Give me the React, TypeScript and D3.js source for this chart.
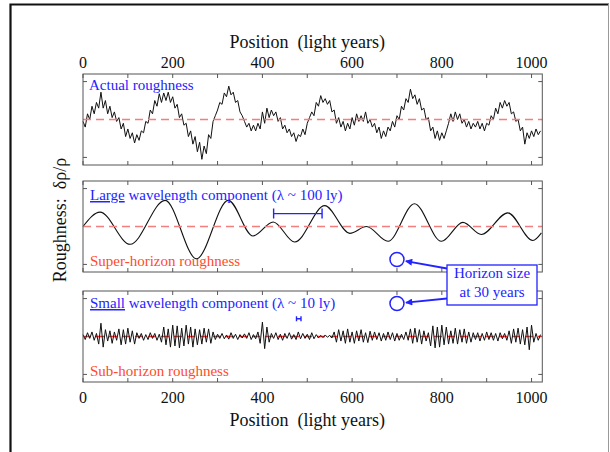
import React, { useRef, useEffect } from "react";
import * as d3 from "d3";

// position axis (light years)
const positionTicks = [0, 100, 200, 300, 400, 500, 600, 700, 800, 900, 1000];
const positionLabels = [0, 200, 400, 600, 800, 1000];
const roughnessTicks = [-1, 1];
const sampleStep = 5; // ly between samples of the noisy series

// top panel: actual roughness, one value every 5 ly from 0
const actualRoughness = [
  -0.05, -0.2, 0.15, 0.0, 0.35, 0.15, 0.45, 0.3, 0.72, 0.3,
  0.5, 0.15, 0.35, 0.05, 0.2, -0.05, 0.05, -0.25, -0.1, -0.45,
  -0.25, -0.5, -0.35, -0.62, -0.4, -0.55, -0.3, -0.35, -0.05, -0.1,
  0.25, 0.15, 0.5, 0.35, 0.68, 0.45, 0.7, 0.5, 0.72, 0.45,
  0.6, 0.3, 0.4, 0.05, 0.15, -0.15, -0.1, -0.45, -0.3, -0.65,
  -0.45, -0.85, -0.6, -1.05, -0.7, -0.9, -0.4, -0.5, -0.05, 0.1,
  0.25, 0.45, 0.4, 0.7, 0.6, 0.88, 0.65, 0.72, 0.45, 0.5,
  0.2, 0.1, -0.05, -0.2, -0.1, -0.3, -0.15, -0.3, -0.1, -0.25,
  0.2, -0.1, 0.3, 0.05, 0.25, 0.1, 0.2, -0.05, 0.05, -0.25,
  -0.15, -0.35, -0.25, -0.45, -0.35, -0.58, -0.4, -0.45, -0.25, -0.4,
  -0.1, 0.05, 0.2, 0.1, 0.45, 0.35, 0.63, 0.45, 0.55, 0.4,
  0.5, 0.2, 0.25, -0.1, 0.05, -0.2, -0.05, -0.3, -0.1, -0.25,
  0.05, -0.15, 0.15, -0.05, 0.1, -0.05, 0.2, -0.1, 0.0, -0.2,
  -0.1, -0.35, -0.2, -0.5, -0.3, -0.45, -0.2, -0.3, -0.05, -0.2,
  0.1, 0.0, 0.35, 0.25, 0.55, 0.45, 0.8, 0.55, 0.65, 0.4,
  0.55, 0.25, 0.3, 0.0, 0.05, -0.3, -0.2, -0.5, -0.3, -0.55,
  -0.35, -0.5, -0.3, -0.1, 0.15, -0.05, 0.2, 0.0, 0.15, -0.1,
  0.0, -0.2, -0.05, -0.25, -0.1, -0.2, -0.05, -0.25, -0.1, -0.3,
  -0.1, -0.15, 0.1, 0.0, 0.3, 0.15, 0.45, 0.3, 0.5, 0.35,
  0.45, 0.15, 0.2, -0.05, 0.0, -0.3, -0.2, -0.65, -0.35, -0.5,
  -0.3, -0.45, -0.25, -0.4, -0.3,
];

// middle panel: large wavelength component, its turning points
const largePos = [0, 38, 105, 183, 253, 324, 379, 424, 472, 539, 595, 632, 680, 739, 799, 847, 888, 947, 1003, 1022];
const largeVal = [0.0, 0.38, -0.47, 0.69, -0.85, 0.69, -0.25, 0.12, -0.41, 0.55, -0.18, 0.0, -0.39, 0.6, -0.39, 0.11, -0.21, 0.36, -0.37, -0.17];

// bottom panel: small wavelength component, one value every 5 ly from 0
const smallRoughness = [
  0.05, -0.08, 0.1, -0.05, 0.12, -0.1, 0.08, -0.2, 0.35, -0.28,
  0.18, -0.12, 0.15, -0.18, 0.12, -0.1, 0.2, -0.22, 0.18, -0.2,
  0.22, -0.15, 0.15, -0.2, 0.1, -0.05, 0.08, -0.1, 0.05, -0.08,
  0.1, -0.05, 0.08, -0.1, 0.06, -0.15, 0.25, -0.22, 0.2, -0.28,
  0.3, -0.25, 0.28, -0.3, 0.22, -0.25, 0.3, -0.2, 0.25, -0.28,
  0.2, -0.22, 0.18, -0.2, 0.22, -0.15, 0.2, -0.18, 0.12, -0.08,
  0.06, -0.05, 0.08, -0.06, 0.04, -0.07, 0.1, -0.05, 0.06, -0.08,
  0.05, -0.04, 0.07, -0.05, 0.1, -0.08, 0.05, -0.06, 0.12, -0.18,
  0.38, -0.32, 0.25, -0.15, 0.08, -0.05, 0.1, -0.08, 0.06, -0.1,
  0.08, -0.05, 0.1, -0.07, 0.05, -0.08, 0.12, -0.06, 0.08, -0.05,
  0.06, -0.08, 0.1, -0.06, 0.05, -0.04, 0.03, -0.03, 0.04, -0.02,
  0.03, -0.04, 0.12, -0.15, 0.18, -0.12, 0.15, -0.18, 0.2, -0.15,
  0.12, -0.18, 0.15, -0.12, 0.18, -0.15, 0.1, -0.16, 0.14, -0.1,
  0.12, -0.08, 0.1, -0.12, 0.08, -0.1, 0.12, -0.08, 0.1, -0.12,
  0.08, -0.1, 0.06, -0.08, 0.12, -0.1, 0.2, -0.18, 0.22, -0.15,
  0.18, -0.2, 0.15, -0.12, 0.1, -0.25, 0.28, -0.3, 0.25, -0.28,
  0.3, -0.22, 0.25, -0.2, 0.15, -0.18, 0.22, -0.2, 0.18, -0.15,
  0.2, -0.18, 0.12, -0.15, 0.1, -0.08, 0.1, -0.12, 0.08, -0.1,
  0.12, -0.08, 0.1, -0.1, 0.08, -0.12, 0.1, -0.06, 0.08, -0.1,
  0.15, -0.18, 0.2, -0.15, 0.22, -0.2, 0.18, -0.22, 0.25, -0.35,
  0.3, -0.15, 0.08, -0.1, 0.05,
];

// annotations
const largeBracket = [425, 533]; // ly, about 100 ly
const largeBracketVal = 0.34;
const smallBracket = [476, 486]; // ly, about 10 ly
const smallBracketVal = 0.47;
const horizonPos = 700;
const horizonVal = [-0.87, 0.87]; // middle, bottom panel

const BLUE = "#2323ff";
const RED_TEXT = "#ff4b2b";
const FONT = "'Liberation Serif', 'Times New Roman', serif";

export default function App() {
  const ref = useRef<SVGSVGElement>(null);

  useEffect(() => {
    const width = 610, height = 452;
    const svg = d3.select(ref.current);
    svg.selectAll("*").remove();

    const x = d3.scaleLinear().domain([0, 1024]).range([83, 542.3]);
    const panels = [
      { top: 74, bottom: 165 },
      { top: 181, bottom: 272 },
      { top: 291, bottom: 382 },
    ];
    const ys = panels.map(p => d3.scaleLinear().domain([-1.2, 1.2]).range([p.bottom, p.top]));

    const defs = svg.append("defs");
    defs.append("marker")
      .attr("id", "arrow")
      .attr("viewBox", "0 0 10 10")
      .attr("refX", 9).attr("refY", 5)
      .attr("markerWidth", 9).attr("markerHeight", 7)
      .attr("markerUnits", "userSpaceOnUse")
      .attr("orient", "auto")
      .append("path").attr("d", "M0,0 L10,5 L0,10 Z").attr("fill", BLUE);

    // slide frame
    svg.append("path")
      .attr("d", `M10.5,${height} V4.5 H609`)
      .attr("fill", "none").attr("stroke", "#111").attr("stroke-width", 2.2);
    svg.append("line")
      .attr("x1", 608.5).attr("x2", 608.5).attr("y1", 4).attr("y2", height)
      .attr("stroke", "#999").attr("stroke-width", 1);

    const [x0, x1] = x.range();

    // panels, ticks, zero lines
    panels.forEach((p, i) => {
      const y = ys[i];
      const g = svg.append("g");

      const zeroColor = i === 2 ? "#e83a3a" : "#f47e7e";
      const zero = () => g.append("line")
        .attr("x1", x0).attr("x2", x1)
        .attr("y1", y(0)).attr("y2", y(0))
        .attr("stroke", zeroColor).attr("stroke-width", 1.3)
        .attr("stroke-dasharray", "8,5");

      if (i === 2) zero();

      const series = i === 0 ? actualRoughness : i === 2 ? smallRoughness : null;
      if (series) {
        const line = d3.line<number>()
          .x((_, k) => x(k * sampleStep))
          .y(d => y(d));
        g.append("path")
          .attr("d", line(series))
          .attr("fill", "none").attr("stroke", "#111").attr("stroke-width", 1)
          .attr("stroke-linejoin", "round");
      } else {
        const line = d3.line<number>()
          .x((_, k) => x(largePos[k]))
          .y(d => y(d))
          .curve(d3.curveMonotoneX);
        g.append("path")
          .attr("d", line(largeVal))
          .attr("fill", "none").attr("stroke", "#111").attr("stroke-width", 1.1);
      }

      if (i !== 2) zero();

      g.append("rect")
        .attr("x", x0).attr("y", p.top)
        .attr("width", x1 - x0).attr("height", p.bottom - p.top)
        .attr("fill", "none").attr("stroke", "#555").attr("stroke-width", 1);

      positionTicks.forEach(t => {
        g.append("line").attr("x1", x(t)).attr("x2", x(t)).attr("y1", p.top).attr("y2", p.top + 4)
          .attr("stroke", "#555");
        g.append("line").attr("x1", x(t)).attr("x2", x(t)).attr("y1", p.bottom).attr("y2", p.bottom - 4)
          .attr("stroke", "#555");
      });
      roughnessTicks.forEach(t => {
        g.append("line").attr("x1", x0).attr("x2", x0 + 4).attr("y1", y(t)).attr("y2", y(t))
          .attr("stroke", "#555");
        g.append("line").attr("x1", x1).attr("x2", x1 - 4).attr("y1", y(t)).attr("y2", y(t))
          .attr("stroke", "#555");
      });
    });

    // axis labels
    const text = (tx: number, ty: number, s: string, size: number, color = "#111", anchor = "middle") =>
      svg.append("text")
        .attr("x", tx).attr("y", ty)
        .attr("text-anchor", anchor)
        .attr("font-family", FONT).attr("font-size", size)
        .attr("fill", color)
        .style("white-space", "pre")
        .text(s);

    positionLabels.forEach(t => {
      text(x(t), 68, String(t), 16);
      text(x(t), 403, String(t), 16);
    });
    text(x(500), 48, "Position  (light years)", 18);
    text(x(500), 426, "Position  (light years)", 18);

    svg.append("text")
      .attr("transform", "translate(66,220) rotate(-90)")
      .attr("text-anchor", "middle")
      .attr("font-family", FONT).attr("font-size", 18)
      .attr("fill", "#111")
      .style("white-space", "pre")
      .text("Roughness:  δρ/ρ");

    // panel captions
    text(89, 90, "Actual roughness", 15, BLUE, "start");
    const under = (ty: number, first: string, rest: string) => {
      const t = svg.append("text")
        .attr("x", 90).attr("y", ty)
        .attr("font-family", FONT).attr("font-size", 15)
        .attr("fill", BLUE)
        .style("white-space", "pre");
      t.append("tspan").style("text-decoration", "underline").text(first);
      t.append("tspan").text(rest);
    };
    under(200, "Large", " wavelength component (λ ~ 100 ly)");
    under(308, "Small", " wavelength component (λ ~ 10 ly)");
    text(90, 266, "Super-horizon roughness", 15, RED_TEXT, "start");
    text(90, 376, "Sub-horizon roughness", 15, RED_TEXT, "start");

    // wavelength brackets
    const bracket = (range: number[], val: number, y: d3.ScaleLinear<number, number>, cap: number) => {
      const by = y(val);
      const path = `M${x(range[0])},${by - cap} V${by + cap} M${x(range[0])},${by} H${x(range[1])} M${x(range[1])},${by - cap} V${by + cap}`;
      svg.append("path").attr("d", path).attr("fill", "none").attr("stroke", BLUE).attr("stroke-width", 1.4);
    };
    bracket(largeBracket, largeBracketVal, ys[1], 5);
    bracket(smallBracket, smallBracketVal, ys[2], 2.5);

    // horizon circles, box and arrows
    const r = 7;
    const box = { x: 447, y: 265, w: 90, h: 40 };
    svg.append("rect")
      .attr("x", box.x).attr("y", box.y).attr("width", box.w).attr("height", box.h)
      .attr("fill", "#fff").attr("stroke", BLUE).attr("stroke-width", 1.3);
    text(box.x + box.w / 2, 278, "Horizon size", 15, BLUE);
    text(box.x + box.w / 2, 297, "at 30 years", 15, BLUE);

    const starts = [[box.x, 268.5], [box.x, 298.5]];
    horizonVal.forEach((v, k) => {
      const cx = x(horizonPos), cy = ys[k + 1](v);
      svg.append("circle")
        .attr("cx", cx).attr("cy", cy).attr("r", r)
        .attr("fill", "none").attr("stroke", BLUE).attr("stroke-width", 1.5);
      const [sx, sy] = starts[k];
      const dx = cx - sx, dy = cy - sy, len = Math.hypot(dx, dy);
      const ex = cx - (dx / len) * (r + 2), ey = cy - (dy / len) * (r + 2);
      svg.append("line")
        .attr("x1", sx).attr("y1", sy).attr("x2", ex).attr("y2", ey)
        .attr("stroke", BLUE).attr("stroke-width", 1.8)
        .attr("marker-end", "url(#arrow)");
    });
  }, []);

  return (
    <svg
      ref={ref}
      width={610}
      height={452}
      style={{ position: "absolute", left: 0, top: 0, display: "block", background: "#fff" }}
    />
  );
}
